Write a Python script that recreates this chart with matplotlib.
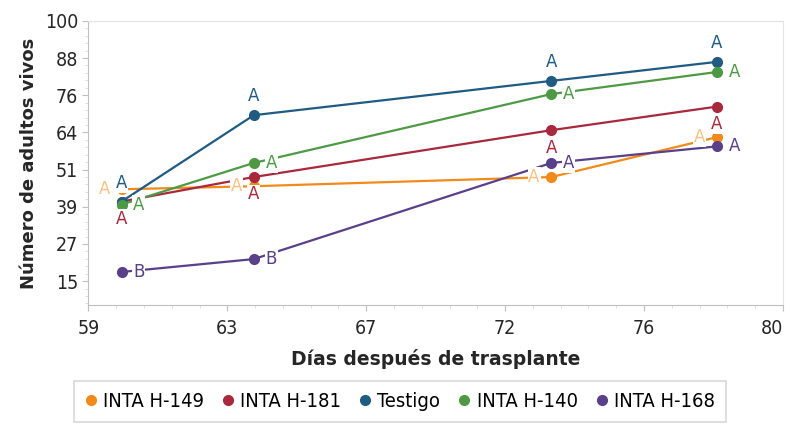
import matplotlib.pyplot as plt
from matplotlib.ticker import AutoMinorLocator
from matplotlib import font_manager
import numpy as np

# datos
dias = [60, 64, 73, 78]
h149 = [45, 46, 49, 62]
h181 = [41, 49, 64.3, 72]
testigo = [41, 69.2, 80.4, 86.6]
h140 = [40, 53.6, 76.1, 83.3]
h168 = [18, 22.2, 53.6, 59]

letras_h149 = ['A', 'A', 'A', 'A']
letras_h181 = ['A', 'A', 'A', 'A']
letras_testigo = ['A', 'A', 'A', 'A']
letras_h140 = ['A', 'A', 'A', 'A']
letras_h168 = ['B', 'B', 'A', 'A']

x_ticks = [59, 63, 67, 72, 76, 80]
y_ticks = [15, 27, 39, 51, 64, 76, 88, 100]

series = [
    ('INTA H-149', h149, letras_h149, '#f28a1a', '#f6c284', (-12.5, 0)),
    ('INTA H-181', h181, letras_h181, '#a8283c', '#a8283c', (0, -12.5)),
    ('Testigo', testigo, letras_testigo, '#1f5b82', '#1f5b82', (0, 13.5)),
    ('INTA H-140', h140, letras_h140, '#4e9a44', '#4e9a44', (12.5, 0)),
    ('INTA H-168', h168, letras_h168, '#5a3f8a', '#5a3f8a', (12.5, 0)),
]

# fuente condensada si esta instalada
fp = font_manager.FontProperties(family='DejaVu Sans', stretch='condensed')
ruta = font_manager.findfont(fp)
condensada = 'Condensed' in ruta
estirar = 'condensed' if condensada else 'normal'
tam_tick = 14 if condensada else 12.5
tam_leg = 14.5 if condensada else 13

fig = plt.figure(figsize=(7.9, 4.26), dpi=100)
ax = fig.add_axes([0.112, 0.284, 0.879, 0.667])

for nombre, vals, letras, color, color_txt, off in series:
    ax.plot(dias, vals, '-', color=color, lw=1.6, marker='o', ms=7,
            label=nombre, zorder=2)

# etiquetas con fondo blanco por encima de las lineas
for nombre, vals, letras, color, color_txt, off in series:
    for xv, yv, l in zip(dias, vals, letras):
        ax.annotate(l, (xv, yv), xytext=off, textcoords='offset points',
                    ha='center', va='center', fontsize=12, color=color_txt,
                    bbox=dict(boxstyle='square,pad=0.05', fc='white', ec='none'),
                    zorder=3)

ax.set_xlim(59, 80)
ax.set_ylim(7.2, 100)
ax.set_xticks(np.linspace(59, 80, 6))
ax.set_xticklabels([str(v) for v in x_ticks], fontstretch=estirar)
ax.set_yticks(np.linspace(15, 100, 8))
ax.set_yticklabels([str(v) for v in y_ticks], fontstretch=estirar)
ax.xaxis.set_minor_locator(AutoMinorLocator(5))
ax.yaxis.set_minor_locator(AutoMinorLocator(5))
ax.tick_params(which='major', length=4, color='#bfbfbf', labelsize=tam_tick,
               labelcolor='#262626')
ax.tick_params(axis='x', pad=6)
ax.tick_params(which='minor', length=2, color='#d9d9d9')
ax.get_xticklabels()[-1].set_horizontalalignment('right')
ax.get_xticklabels()[-1].set_x(80.35)

for s in ['left', 'bottom']:
    ax.spines[s].set_color('#bfbfbf')
for s in ['top', 'right']:
    ax.spines[s].set_color('#e3e3e3')

ax.set_xlabel('Días después de trasplante', fontsize=13.5, fontweight='bold',
              color='#262626', labelpad=8)
ax.set_ylabel('Número de adultos vivos', fontsize=13, fontweight='bold',
              color='#262626', labelpad=5)

leg = fig.legend(loc='center', bbox_to_anchor=(0.506, 0.058), ncol=5,
                 prop={'size': tam_leg, 'stretch': estirar}, frameon=True,
                 fancybox=False, handlelength=0.6, handletextpad=0.3,
                 columnspacing=0.9, borderpad=0.55)
leg.get_frame().set_edgecolor('#d0d0d0')
leg.get_frame().set_linewidth(1.2)
for h in leg.legend_handles:
    h.set_linestyle('none')

fig.savefig('out.png', dpi=100)
